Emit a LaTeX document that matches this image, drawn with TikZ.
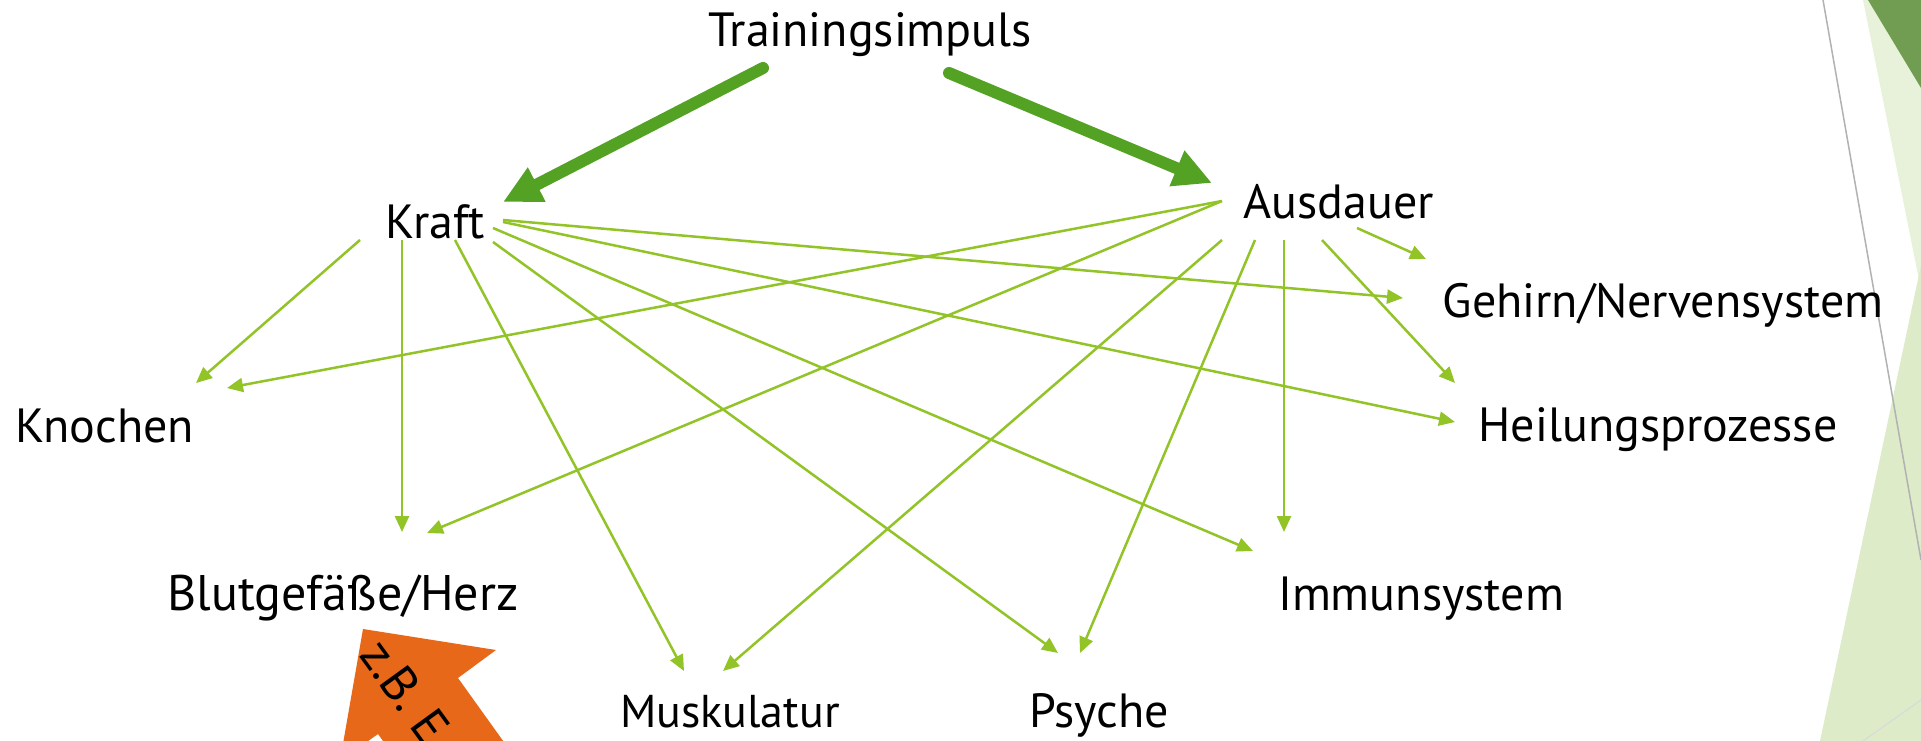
\documentclass[tikz,border=0pt]{standalone}
\usepackage{fontspec}
\setmainfont{PT Sans}
\usetikzlibrary{calc,arrows.meta}

\definecolor{impulsgreen}{RGB}{84,162,36}
\definecolor{linkgreen}{RGB}{146,196,40}
\definecolor{hintorange}{RGB}{232,104,26}
\definecolor{facetdark}{RGB}{112,157,82}
\definecolor{facetlight}{RGB}{232,242,218}
\definecolor{facetpale}{RGB}{221,235,200}

\tikzset{
  word/.style={inner sep=0pt, anchor=base, font=\fontsize{48}{58}\selectfont},
  impulse/.style={draw=impulsgreen, line width=12pt, line cap=round, -{Triangle[length=38pt,width=36pt]}},
  link/.style={draw=linkgreen, line width=2.5pt, -{Triangle[length=16pt,width=14pt]}}
}

\begin{document}
\begin{tikzpicture}[x=1pt, y=-1pt]
			%%%%% FRAME %%%%%
			\useasboundingbox (0, 0) rectangle (1921, 741);
			\fill[white] (0, 0) rectangle (1921, 741);
			
			%%%%% FACET DECOR %%%%%
			\fill[facetlight] (1863, 0) -- (1921, 0) -- (1921, 290) -- cycle;
			\fill[facetdark] (1868, 0) -- (1921, 0) -- (1921, 88) -- cycle;
			\fill[facetpale] (1921, 265) -- (1921, 741) -- (1820, 741) -- cycle;
			\draw[line width=1.5pt, color=black!30] (1823, 0) -- (1921, 560);
			\draw[line width=1pt, color=black!15] (1863, 741) -- (1921, 700);
			
			%%%%% LABELS %%%%%
			\node[word] (train) at (870, 47) {Trainingsimpuls};
			\node[word] (kraft) at (435, 238) {Kraft};
			\node[word] (ausdauer) at (1339, 218) {Ausdauer};
			\node[word] (knochen) at (105, 442) {Knochen};
			\node[word] (gehirn) at (1663, 317) {Gehirn/Nervensystem};
			\node[word] (heilung) at (1658, 441) {Heilungsprozesse};
			\node[word, font=\fontsize{50}{58}\selectfont] (blut) at (343, 610) {Blutgefäße/Herz};
			\node[word] (immun) at (1421, 610) {Immunsystem};
			\node[word, font=\fontsize{46}{56}\selectfont] (muskel) at (730, 727) {Muskulatur};
			\node[word] (psyche) at (1099, 727) {Psyche};
			
			%%%%% IMPULSE %%%%%
			\draw[impulse] ($(train.base)+(-107, 21)$) -- ($(kraft.base)+(68, -36)$);
			\draw[impulse] ($(train.base)+(79, 26)$) -- ($(ausdauer.base)+(-127, -35)$);
			
			%%%%% KRAFT %%%%%
			\draw[link] ($(kraft.base)+(-75, 2)$) -- ($(knochen.base)+(91, -59)$);
			\draw[link] ($(kraft.base)+(-33, 2)$) -- ($(blut.base)+(59, -78)$);
			\draw[link] ($(kraft.base)+(20, 2)$) -- ($(muskel.base)+(-46, -56)$);
			\draw[link] ($(kraft.base)+(58, 4)$) -- ($(psyche.base)+(-41, -74)$);
			\draw[link] ($(kraft.base)+(58, -10)$) -- ($(immun.base)+(-168, -59)$);
			\draw[link] ($(kraft.base)+(68, -16)$) -- ($(heilung.base)+(-203, -19)$);
			\draw[link] ($(kraft.base)+(68, -18)$) -- ($(gehirn.base)+(-260, -19)$);
			
			%%%%% AUSDAUER %%%%%
			\draw[link] ($(ausdauer.base)+(-117, -17)$) -- ($(knochen.base)+(122, -54)$);
			\draw[link] ($(ausdauer.base)+(-117, -17)$) -- ($(blut.base)+(84, -77)$);
			\draw[link] ($(ausdauer.base)+(-117, 22)$) -- ($(muskel.base)+(-7, -56)$);
			\draw[link] ($(ausdauer.base)+(-84, 22)$) -- ($(psyche.base)+(-19, -74)$);
			\draw[link] ($(ausdauer.base)+(-55, 22)$) -- ($(immun.base)+(-137, -78)$);
			\draw[link] ($(ausdauer.base)+(-17, 22)$) -- ($(heilung.base)+(-203, -58)$);
			\draw[link] ($(ausdauer.base)+(18, 10)$) -- ($(gehirn.base)+(-237, -58)$);
			
			%%%%% HINT %%%%%
			\begin{scope}
				\clip (0, 0) rectangle (1921, 741);
				\fill[hintorange] (363, 629) -- (496, 650) -- (458, 678) -- (577, 844)
					-- (497, 900) -- (378, 734) -- (340, 761) -- cycle;
				\node[inner sep=0pt, anchor=west, rotate=-54, font=\fontsize{50}{58}\selectfont] (hint) at (372, 645) {z.B. E};
			\end{scope}
\end{tikzpicture}
\end{document}
